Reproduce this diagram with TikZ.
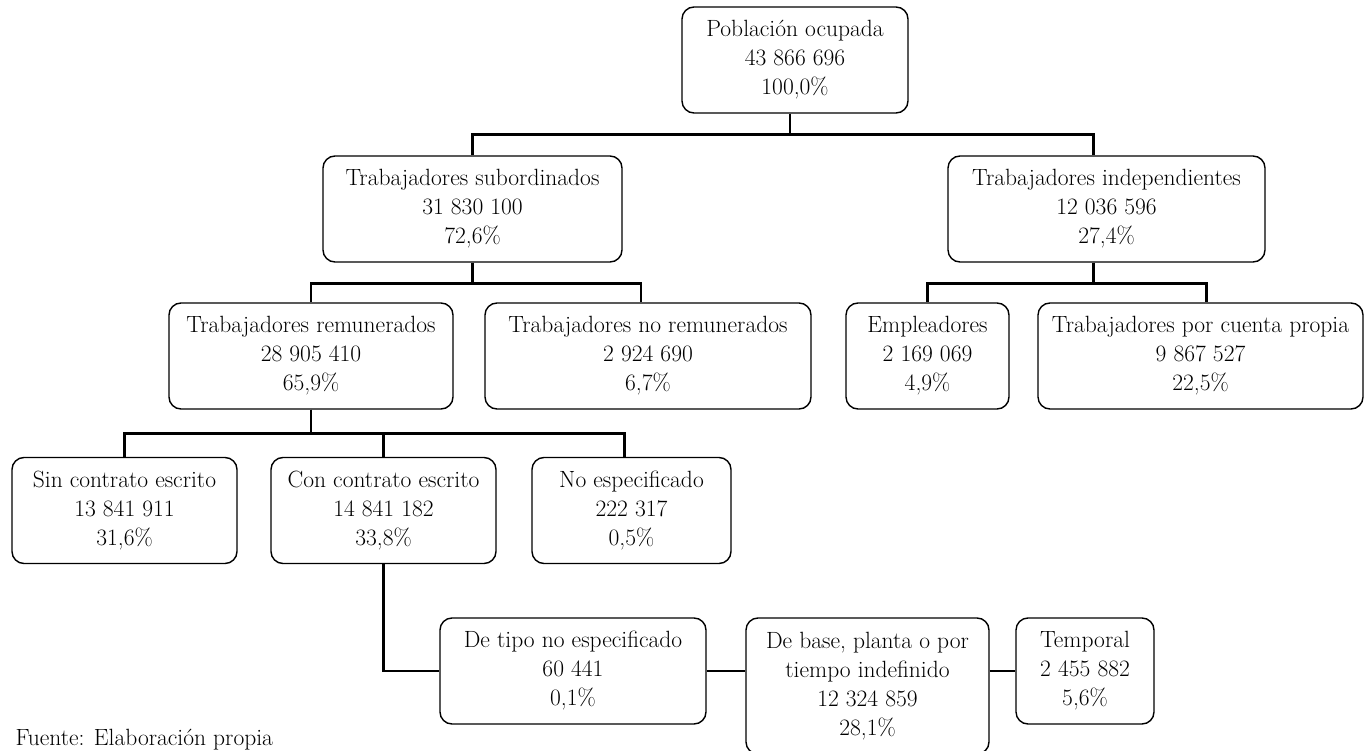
\documentclass[tikz,border=0pt]{standalone}
\usepackage{fontspec}
\usepackage{tikz}

\tikzset{
	caja/.style={draw, line width=1.4pt, rounded corners=12pt, align=center, inner sep=0pt, minimum height=106pt, font=\fontsize{23.5}{29}\selectfont},
	rama/.style={line width=2.8pt, line join=miter}
}

\begin{document}
\begin{tikzpicture}[x=1pt,y=1pt]
		\useasboundingbox (0,0) rectangle (1365,-751);
		% nivel 1 y 2
		\node[caja, minimum width=226pt] (pob) at (795,-60) {Población ocupada\\43 866 696\\100,0\%};
		\node[caja, minimum width=299pt] (sub) at (472.5,-209) {Trabajadores subordinados\\31 830 100\\72,6\%};
		\node[caja, minimum width=317pt] (indep) at (1106.5,-209) {Trabajadores independientes\\12 036 596\\27,4\%};
		% nivel 3
		\node[caja, minimum width=284pt] (rem) at (311,-356) {Trabajadores remunerados\\28 905 410\\65,9\%};
		\node[caja, minimum width=326pt] (norem) at (648,-356) {Trabajadores no remunerados\\2 924 690\\6,7\%};
		\node[caja, minimum width=163pt] (empl) at (927.5,-356) {Empleadores\\2 169 069\\4,9\%};
		\node[caja, minimum width=325pt] (cprop) at (1200.5,-356) {Trabajadores por cuenta propia\\9 867 527\\22,5\%};
		% nivel 4
		\node[caja, minimum width=225pt] (sin) at (124.5,-510.5) {Sin contrato escrito\\13 841 911\\31,6\%};
		\node[caja, minimum width=225pt] (con) at (383.5,-510.5) {Con contrato escrito\\14 841 182\\33,8\%};
		\node[caja, minimum width=199pt] (noesp) at (631.5,-510.5) {No especificado\\222 317\\0,5\%};
		% nivel 5
		\node[caja, minimum width=266pt] (tipo) at (573,-671) {De tipo no especificado\\60 441\\0,1\%};
		\node[caja, minimum width=243pt, minimum height=136pt] (base) at (867.5,-686) {De base, planta o por\\tiempo indefinido\\12 324 859\\28,1\%};
		\node[caja, minimum width=138pt] (temp) at (1085,-671) {Temporal\\2 455 882\\5,6\%};
		\node[anchor=base west, font=\fontsize{23.5}{29}\selectfont] (fuente) at (12,-745) {Fuente: Elaboración propia};
		% ramas
		\draw[rama] ([xshift=-5pt]pob.south) -- ++(0,-21) -| (sub.north);
		\draw[rama] ([xshift=-5pt]pob.south) -- ++(0,-21) -| ([xshift=-13pt]indep.north);
		\draw[rama] (sub.south) -- ++(0,-20.5) -| (rem.north);
		\draw[rama] (sub.south) -- ++(0,-20.5) -| ([xshift=-7pt]norem.north);
		\draw[rama] ([xshift=-13pt]indep.south) -- ++(0,-20.5) -| (empl.north);
		\draw[rama] ([xshift=-13pt]indep.south) -- ++(0,-20.5) -| ([xshift=6pt]cprop.north);
		\draw[rama] (rem.south) -- ++(0,-24) -| (sin.north);
		\draw[rama] (rem.south) -- ++(0,-24) -| (con.north);
		\draw[rama] (rem.south) -- ++(0,-24) -| ([xshift=-7pt]noesp.north);
		\draw[rama] (con.south) |- (tipo.west);
		\draw[rama] (tipo.east) -- (tipo.east -| base.west);
		\draw[rama] (temp.west -| base.east) -- (temp.west);
	\end{tikzpicture}
\end{document}
